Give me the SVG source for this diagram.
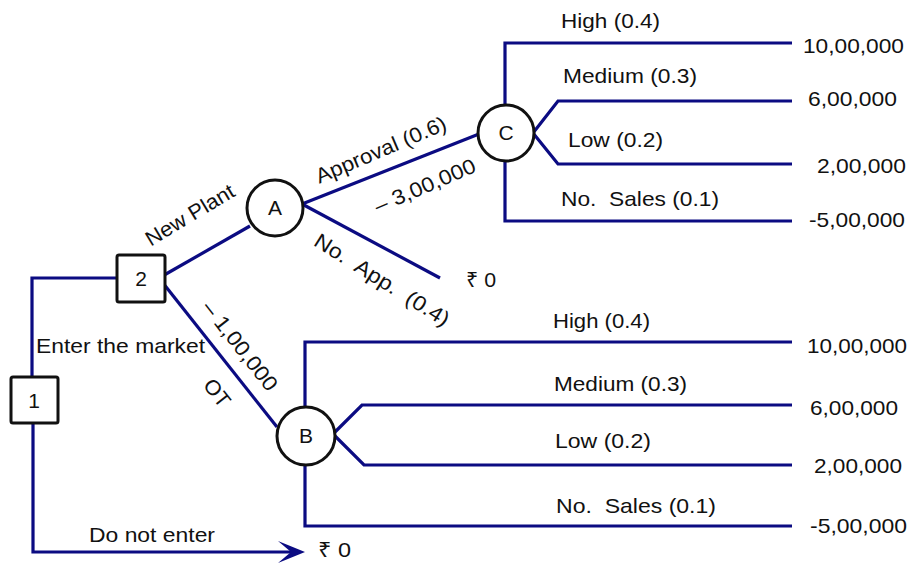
<svg xmlns="http://www.w3.org/2000/svg" width="912" height="563" viewBox="0 0 912 563">
<style>
text{font-family:"Liberation Sans",Arial,Helvetica,sans-serif;font-size:21px;fill:#111;white-space:pre}
.c{fill:none;stroke:#0b0b82;stroke-width:3.2;stroke-linejoin:miter}
.n{fill:#fff;stroke:#111;stroke-width:3}
.m{text-anchor:middle}
</style>
<rect width="912" height="563" fill="#fff"/>
<g id="connectors">
<path class="c" d="M32,378 V278 H118"/>
<path class="c" d="M33,422 V552 H292"/>
<polygon points="305,552 278,541 291,552 278,563" fill="#0b0b82"/>
<path class="c" d="M159,278 L250,226"/>
<path class="c" d="M159,278 L277,427"/>
<path class="c" d="M302,204 L479,134"/>
<path class="c" d="M302,204 L440,278"/>
<path class="c" d="M505,106 V43 H792"/>
<path class="c" d="M533,133 L558,101 H792"/>
<path class="c" d="M533,133 L558,164 H792"/>
<path class="c" d="M505,160 V221 H792"/>
<path class="c" d="M305,408 V342 H792"/>
<path class="c" d="M333,434 L362,405 H792"/>
<path class="c" d="M333,434 L364,465 H792"/>
<path class="c" d="M305,464 V526 H792"/>
</g>
<g id="node1"><rect class="n" x="11" y="377" width="47" height="46" rx="2"/><text class="m" x="34" y="408">1</text></g>
<g id="node2"><rect class="n" x="117" y="255" width="48" height="47" rx="2"/><text class="m" x="141" y="286">2</text></g>
<g id="nodeA"><circle class="n" cx="275" cy="208" r="28"/><text class="m" x="275" y="215">A</text></g>
<g id="nodeB"><circle class="n" cx="306" cy="436" r="29"/><text class="m" x="306" y="443">B</text></g>
<g id="nodeC"><circle class="n" cx="506" cy="133" r="28"/><text class="m" x="506" y="140">C</text></g>
<g id="labels">
<text x="36" y="353" textLength="169" lengthAdjust="spacingAndGlyphs">Enter the market</text>
<text x="89" y="542" textLength="126" lengthAdjust="spacingAndGlyphs">Do not enter</text>
<text x="318" y="557" textLength="33" lengthAdjust="spacingAndGlyphs">₹ 0</text>
<text x="466" y="287" textLength="30" lengthAdjust="spacingAndGlyphs">₹ 0</text>
<text class="m" transform="translate(190,215) rotate(-31)" dy="7" textLength="100" lengthAdjust="spacingAndGlyphs">New Plant</text>
<text class="m" transform="translate(381,150) rotate(-23)" dy="7" textLength="140" lengthAdjust="spacingAndGlyphs">Approval (0.6)</text>
<text class="m" transform="translate(425,186) rotate(-23)" dy="7" textLength="108" lengthAdjust="spacingAndGlyphs">– 3,00,000</text>
<text class="m" transform="translate(382,280) rotate(32)" dy="7" textLength="155" lengthAdjust="spacingAndGlyphs">No.  App.  (0.4)</text>
<text class="m" transform="translate(240,346) rotate(52)" dy="7" textLength="108" lengthAdjust="spacingAndGlyphs">– 1,00,000</text>
<text class="m" transform="translate(217,393) rotate(52)" dy="7" textLength="30" lengthAdjust="spacingAndGlyphs">OT</text>
<text x="561" y="28" textLength="99" lengthAdjust="spacingAndGlyphs">High (0.4)</text>
<text x="563" y="83" textLength="134" lengthAdjust="spacingAndGlyphs">Medium (0.3)</text>
<text x="568" y="147" textLength="95" lengthAdjust="spacingAndGlyphs">Low (0.2)</text>
<text x="561" y="206" textLength="158" lengthAdjust="spacingAndGlyphs">No.  Sales (0.1)</text>
<text x="803" y="53" textLength="101" lengthAdjust="spacingAndGlyphs">10,00,000</text>
<text x="808" y="106" textLength="89" lengthAdjust="spacingAndGlyphs">6,00,000</text>
<text x="817" y="173" textLength="89" lengthAdjust="spacingAndGlyphs">2,00,000</text>
<text x="809" y="227" textLength="96" lengthAdjust="spacingAndGlyphs">-5,00,000</text>
<text x="553" y="328" textLength="97" lengthAdjust="spacingAndGlyphs">High (0.4)</text>
<text x="554" y="391" textLength="133" lengthAdjust="spacingAndGlyphs">Medium (0.3)</text>
<text x="555" y="448" textLength="96" lengthAdjust="spacingAndGlyphs">Low (0.2)</text>
<text x="556" y="513" textLength="160" lengthAdjust="spacingAndGlyphs">No.  Sales (0.1)</text>
<text x="807" y="353" textLength="100" lengthAdjust="spacingAndGlyphs">10,00,000</text>
<text x="810" y="415" textLength="88" lengthAdjust="spacingAndGlyphs">6,00,000</text>
<text x="814" y="473" textLength="88" lengthAdjust="spacingAndGlyphs">2,00,000</text>
<text x="810" y="533" textLength="97" lengthAdjust="spacingAndGlyphs">-5,00,000</text>
</g>
</svg>
